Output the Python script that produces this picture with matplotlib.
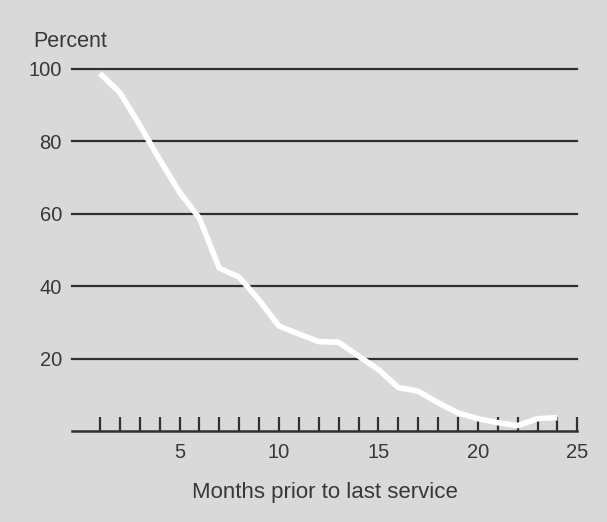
import matplotlib
matplotlib.use("Agg")
import matplotlib.pyplot as plt

plt.rcParams['font.family'] = ['Liberation Sans', 'DejaVu Sans']

months = list(range(1, 25))
percent = [98.8, 93.5, 84.5, 75.0, 66.0, 58.8, 45.0, 42.5, 36.2, 29.0, 26.8, 24.7,
           24.5, 20.7, 17.0, 12.0, 11.0, 7.8, 5.0, 3.4, 2.3, 1.5, 3.4, 3.7]
y_ticks = [20, 40, 60, 80, 100]
x_major = [5, 10, 15, 20, 25]
x_minor = list(range(1, 26))

bg = '#d9d9d9'
ink = '#303030'
txt = '#383838'
W, H = 607, 522
fig = plt.figure(figsize=(W / 100, H / 100), dpi=100, facecolor=bg)
ax = fig.add_axes([71.7 / W, (H - 431) / H, (577.3 - 71.7) / W, (431 - 69) / H])
ax.set_facecolor(bg)
ax.set_xlim(-0.42, 25)
ax.set_ylim(0, 100)

for v in y_ticks:
    ax.axhline(v, color=ink, lw=1.6, clip_on=False, zorder=1)

ax.plot(months, percent, color='white', lw=4.0, solid_joinstyle='round',
        solid_capstyle='butt', zorder=3, clip_on=False)

for s in ['top', 'right', 'left']:
    ax.spines[s].set_visible(False)
ax.spines['bottom'].set_color(ink)
ax.spines['bottom'].set_linewidth(1.8)

ax.set_yticks(y_ticks)
ax.set_yticklabels([str(v) for v in y_ticks])
ax.tick_params(axis='y', length=0, pad=7, labelsize=14.5, labelcolor=txt)

ax.set_xticks(x_minor, minor=True)
ax.set_xticks(x_major)
ax.set_xticklabels([str(v) for v in x_major])
ax.tick_params(axis='x', which='both', direction='in', length=10, width=1.6,
               color=ink, labelsize=14.5, labelcolor=txt, pad=9)

ax.set_xlabel('Months prior to last service', fontsize=16, color=txt, labelpad=14)

fig.text(33 / W, 1 - 47 / H, 'Percent', fontsize=15.5, color=txt,
         ha='left', va='baseline')

fig.savefig('out.png', dpi=100, facecolor=bg)
